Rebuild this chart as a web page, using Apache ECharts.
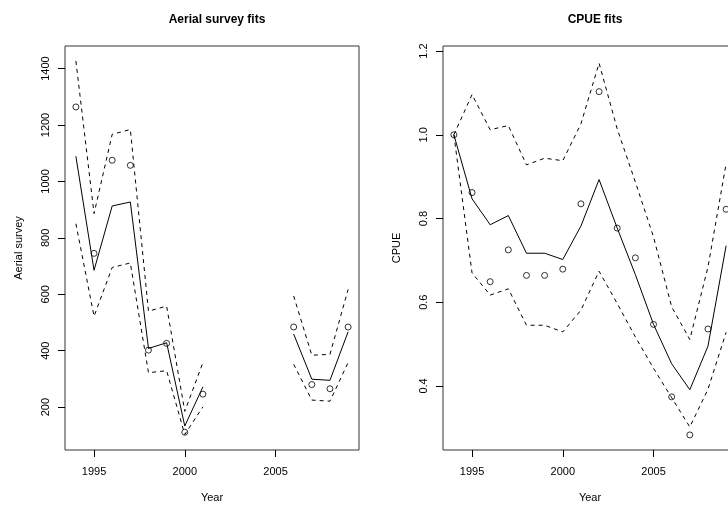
<!DOCTYPE html>
<html>
<head>
<meta charset="utf-8">
<script src="https://cdn.jsdelivr.net/npm/echarts@6/dist/echarts.min.js"></script>
<style>
  html, body { margin: 0; padding: 0; background: #fff; }
  #chart { width: 728px; height: 507px; }
</style>
</head>
<body>
<div id="chart"></div>
<script>
// years shared by both panels
var years = [1994, 1995, 1996, 1997, 1998, 1999, 2000, 2001, 2002, 2003, 2004, 2005, 2006, 2007, 2008, 2009];
var xTicks = [1995, 2000, 2005];

// aerial survey (no survey 2002-2005)
var aerialObs = [1264, 745, 1075, 1057, 402, 426, 111, 246, null, null, null, null, 484, 280, 265, 484];
var aerialFit = [1089, 685, 913, 927, 408, 428, 133, 272, null, null, null, null, 459, 299, 295, 467];
var aerialUpper = [1427, 886, 1167, 1184, 540, 558, 185, 358, null, null, null, null, 594, 384, 387, 617];
var aerialLower = [850, 522, 695, 711, 322, 329, 103, 201, null, null, null, null, 352, 225, 221, 358];
var aerialTicks = [200, 400, 600, 800, 1000, 1200, 1400];

// CPUE index
var cpueObs = [1.0, 0.862, 0.649, 0.725, 0.664, 0.664, 0.679, 0.835, 1.103, 0.777, 0.706, 0.547, 0.374, 0.283, 0.536, 0.822];
var cpueFit = [1.0, 0.847, 0.785, 0.807, 0.717, 0.717, 0.702, 0.782, 0.893, 0.777, 0.666, 0.547, 0.453, 0.391, 0.495, 0.735];
var cpueUpper = [1.0, 1.096, 1.012, 1.022, 0.928, 0.944, 0.938, 1.026, 1.171, 1.014, 0.887, 0.756, 0.589, 0.511, 0.684, 0.931];
var cpueLower = [1.0, 0.670, 0.617, 0.632, 0.545, 0.545, 0.529, 0.581, 0.674, 0.597, 0.517, 0.442, 0.372, 0.302, 0.392, 0.528];
var cpueTicks = [0.4, 0.6, 0.8, 1.0, 1.2];

var FONT = '"Liberation Sans", Arial, Helvetica, sans-serif';

function pairs(vals) {
    return years.map(function(y, i) {
        return [y, vals[i]];
    });
}

function xAxisFor(idx) {
    return {
        type: 'value',
        gridIndex: idx,
        min: 1993.4,
        max: 2009.6,
        name: 'Year',
        nameLocation: 'middle',
        nameGap: 42,
        nameTextStyle: { color: '#000', fontSize: 11, fontFamily: FONT },
        splitLine: { show: false },
        axisLine: { show: false },
        axisTick: { show: true, length: 7, customValues: xTicks, lineStyle: { color: '#000' } },
        axisLabel: {
            customValues: xTicks, color: '#000', fontSize: 11, fontFamily: FONT, margin: 16,
            formatter: function(v) { return String(v); }
        }
    };
}

function yAxisFor(idx, name, min, max, ticks, fmt) {
    return {
        type: 'value',
        gridIndex: idx,
        min: min,
        max: max,
        name: name,
        nameLocation: 'middle',
        nameGap: 41,
        nameRotate: 90,
        nameTextStyle: { color: '#000', fontSize: 11, fontFamily: FONT },
        splitLine: { show: false },
        axisLine: { show: false },
        axisTick: { show: true, length: 7, customValues: ticks, lineStyle: { color: '#000' } },
        axisLabel: {
            customValues: ticks, rotate: 90, color: '#000', fontSize: 11, fontFamily: FONT, margin: 14,
            formatter: fmt
        }
    };
}

function panelSeries(idx, obs, fit, upper, lower) {
    var lineBase = {
        type: 'line',
        xAxisIndex: idx,
        yAxisIndex: idx,
        showSymbol: false,
        symbol: 'none',
        connectNulls: false,
        silent: true,
        animation: false
    };
    return [
        Object.assign({}, lineBase, { data: pairs(fit), lineStyle: { color: '#000', width: 1 } }),
        Object.assign({}, lineBase, { data: pairs(upper), lineStyle: { color: '#000', width: 1, type: [4, 4] } }),
        Object.assign({}, lineBase, { data: pairs(lower), lineStyle: { color: '#000', width: 1, type: [4, 4] } }),
        {
            type: 'scatter',
            xAxisIndex: idx,
            yAxisIndex: idx,
            symbol: 'circle',
            symbolSize: 6,
            silent: true,
            animation: false,
            itemStyle: { color: 'rgba(0,0,0,0)', borderColor: '#000', borderWidth: 1 },
            data: pairs(obs).filter(function(p) { return p[1] !== null; })
        }
    ];
}

var myChart = echarts.init(document.getElementById('chart'));
var option = {
    backgroundColor: '#fff',
    animation: false,
    title: [{
        text: 'Aerial survey fits',
        left: 212,
        top: 9,
        textAlign: 'center',
        textStyle: { fontSize: 12, fontWeight: 'bold', color: '#000', fontFamily: FONT }
    }, {
        text: 'CPUE fits',
        left: 590,
        top: 9,
        textAlign: 'center',
        textStyle: { fontSize: 12, fontWeight: 'bold', color: '#000', fontFamily: FONT }
    }],
    grid: [{
        left: 65, top: 46, width: 294, height: 404,
        outerBoundsMode: 'none', containLabel: false,
        show: true, borderColor: '#333', borderWidth: 1, backgroundColor: 'transparent'
    }, {
        left: 443, top: 46, width: 294, height: 404,
        outerBoundsMode: 'none', containLabel: false,
        show: true, borderColor: '#333', borderWidth: 1, backgroundColor: 'transparent'
    }],
    xAxis: [xAxisFor(0), xAxisFor(1)],
    yAxis: [
        yAxisFor(0, 'Aerial survey', 48, 1480, aerialTicks, function(v) { return String(v); }),
        yAxisFor(1, 'CPUE', 0.247, 1.212, cpueTicks, function(v) { return v.toFixed(1); })
    ],
    series: panelSeries(0, aerialObs, aerialFit, aerialUpper, aerialLower)
        .concat(panelSeries(1, cpueObs, cpueFit, cpueUpper, cpueLower))
};
myChart.setOption(option);
</script>
</body>
</html>
